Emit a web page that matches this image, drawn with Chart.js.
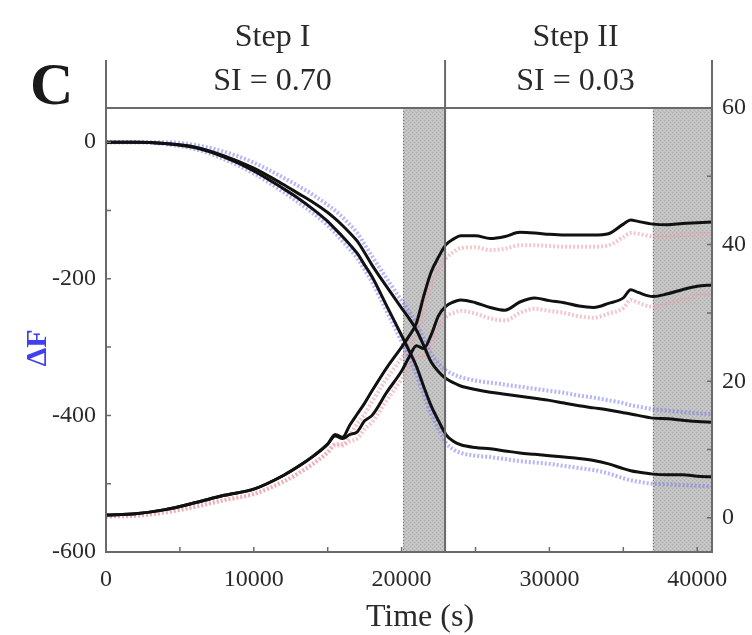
<!DOCTYPE html>
<html>
<head>
<meta charset="utf-8">
<script src="https://cdn.jsdelivr.net/npm/chart.js@4.4.1/dist/chart.umd.min.js"></script>
<style>
  html, body { margin: 0; padding: 0; background: #ffffff; }
  #wrap { width: 752px; height: 635px; position: relative; }
</style>
</head>
<body>
<div id="wrap"><canvas id="chart" width="752" height="635"></canvas></div>
<script>
// Sampling times (s)
const timeS = [0,2000,4000,6000,8000,10000,12000,13000,14000,15000,15500,16000,16500,17000,17500,18000,19000,20000,20500,21000,21500,22000,22500,23000,23500,24000,25000,26000,27000,28000,29000,30000,31000,32000,33000,34000,35000,35500,36000,37000,38000,39000,40000,41000];

// Frequency shift ΔF (left axis): two overtones, fitted (black) and measured (blue)
const dF1Fit  = [0,0,-2,-7,-20,-38,-62,-75,-88,-103,-112,-122,-133,-145,-162,-180,-212,-243,-258,-275,-298,-322,-336,-346,-352,-357,-362,-366,-369,-372,-375,-378,-382,-386,-389,-392,-396,-398,-400,-404,-405,-407,-409,-410];
const dF1Meas = [0,0,0,-4,-14,-30,-52,-64,-77,-92,-100,-110,-121,-133,-150,-167,-200,-232,-248,-266,-288,-310,-324,-334,-340,-344,-349,-352,-355,-358,-361,-364,-367,-371,-374,-378,-382,-385,-387,-391,-393,-395,-397,-398];
const dF2Fit  = [0,0,-2,-8,-22,-42,-68,-82,-98,-116,-127,-138,-150,-163,-180,-197,-240,-283,-305,-328,-358,-386,-408,-428,-438,-443,-447,-449,-452,-455,-457,-459,-461,-463,-466,-471,-478,-481,-483,-486,-487,-487,-489,-490];
const dF2Meas = [0,0,-3,-10,-25,-46,-73,-88,-104,-122,-133,-145,-157,-170,-187,-205,-248,-292,-315,-340,-370,-398,-420,-440,-450,-455,-459,-461,-464,-467,-469,-471,-474,-477,-480,-485,-492,-495,-497,-500,-501,-502,-503,-504];

// Dissipation (right axis): fitted (black) and measured (pink)
const dD1Fit  = [0.4,0.6,1.2,2.2,3.3,4.2,6.2,7.5,9.0,10.8,12.2,11.8,13.6,15.2,16.8,18.6,22.0,25.0,26.6,28.5,32.5,36.0,38.2,40.0,40.8,41.3,41.3,40.9,41.2,41.8,41.7,41.5,41.4,41.4,41.4,41.6,43.0,43.6,43.4,43.0,42.9,43.1,43.2,43.3];
const dD1Meas = [0.2,0.3,0.8,1.6,2.6,3.5,5.3,6.5,7.9,9.6,10.8,10.8,12.2,13.8,15.2,17.0,20.4,23.4,25.0,26.8,30.6,34.0,36.3,38.0,38.9,39.5,39.6,39.2,39.4,39.9,39.9,39.8,39.7,39.7,39.7,39.9,41.1,41.7,41.6,41.2,41.2,41.4,41.5,41.6];
const dD2Fit  = [0.4,0.6,1.2,2.2,3.3,4.2,6.2,7.5,9.0,10.8,12.0,11.6,12.2,12.6,14.2,15.0,18.4,21.5,23.5,25.2,24.8,26.8,29.6,31.0,31.6,31.9,31.5,30.8,30.4,31.6,32.2,31.8,31.5,31.0,30.8,31.4,32.2,33.4,33.0,32.4,32.8,33.4,33.9,34.1];
const dD2Meas = [0.2,0.3,0.8,1.6,2.6,3.5,5.3,6.5,7.9,9.6,10.6,10.6,11.2,11.6,13.0,14.0,17.2,20.3,22.0,23.6,23.6,25.4,28.0,29.4,30.0,30.3,29.9,29.2,28.9,30.0,30.6,30.3,30.0,29.5,29.3,29.9,30.7,31.9,31.5,30.9,31.4,32.0,32.6,32.9];

// Rinse periods (shaded) and step boundaries (s)
const rinseBands = [[20100, 22940], [37000, 41000]];
const stepEdges = [0, 22940, 41000];
const stepNames = ['Step I', 'Step II'];
const stepSI = ['SI = 0.70', 'SI = 0.03'];

// Axis ranges and labelled time ticks
const timeRange = [0, 41000];
const timeLabels = [0, 10000, 20000, 30000, 40000];
const dFRange = [-600, 50];
const dDRange = [-5, 60];

const SERIF = '"Liberation Serif", "DejaVu Serif", serif';
const pts = arr => arr.map((v, i) => ({ x: timeS[i], y: v }));

function line(data, axis, color, width, dash, order) {
  return {
    data: pts(data), yAxisID: axis, borderColor: color, borderWidth: width,
    borderDash: dash, pointRadius: 0, fill: false, order: order,
    cubicInterpolationMode: 'monotone'
  };
}

function hatchPattern(ctx) {
  const p = document.createElement('canvas');
  p.width = 4; p.height = 4;
  const g = p.getContext('2d');
  g.fillStyle = '#c2c2c2'; g.fillRect(0, 0, 4, 4);
  g.fillStyle = '#a8a8a8';
  g.fillRect(0, 0, 1, 1); g.fillRect(2, 2, 1, 1);
  g.fillStyle = '#cfcfcf';
  g.fillRect(2, 0, 1, 1); g.fillRect(0, 2, 1, 1);
  return ctx.createPattern(p, 'repeat');
}

const decorations = {
  id: 'decorations',
  beforeDatasetsDraw(chart) {
    const { ctx, chartArea: a, scales: { x } } = chart;
    ctx.save();
    ctx.fillStyle = hatchPattern(ctx);
    rinseBands.forEach(([s, e]) => {
      const x0 = x.getPixelForValue(s), x1 = x.getPixelForValue(e);
      ctx.fillRect(x0, a.top, x1 - x0, a.bottom - a.top);
      ctx.strokeStyle = '#707070'; ctx.lineWidth = 1; ctx.setLineDash([1, 2]);
      [x0, x1].forEach(px => {
        ctx.beginPath(); ctx.moveTo(px + 0.5, a.top); ctx.lineTo(px + 0.5, a.bottom); ctx.stroke();
      });
    });
    ctx.restore();
  },
  afterDatasetsDraw(chart) {
    const { ctx, chartArea: a, scales: { x, y, y1 } } = chart;
    ctx.save();
    ctx.strokeStyle = '#6a6a6a';
    ctx.lineWidth = 2;
    ctx.strokeRect(a.left, a.top, a.right - a.left, a.bottom - a.top);
    // step boundary lines, running above the frame
    stepEdges.forEach(t => {
      const px = x.getPixelForValue(t);
      ctx.beginPath(); ctx.moveTo(px, 60); ctx.lineTo(px, t > 0 && t < timeRange[1] ? a.bottom : a.top); ctx.stroke();
    });
    // inward ticks
    ctx.lineWidth = 1.5;
    ctx.beginPath();
    for (let v = dFRange[0]; v <= 0; v += 100) {
      const py = y.getPixelForValue(v); ctx.moveTo(a.left, py); ctx.lineTo(a.left + 5, py);
    }
    for (let v = 0; v <= dDRange[1]; v += 10) {
      const py = y1.getPixelForValue(v); ctx.moveTo(a.right, py); ctx.lineTo(a.right - 5, py);
    }
    for (let v = 5000; v <= 40000; v += 5000) {
      const px = x.getPixelForValue(v); ctx.moveTo(px, a.bottom); ctx.lineTo(px, a.bottom - 5);
    }
    ctx.stroke();
    ctx.restore();
  },
  afterDraw(chart) {
    const { ctx, chartArea: a, scales: { x } } = chart;
    ctx.save();
    // time tick labels
    ctx.fillStyle = '#2a2a2a';
    ctx.font = '24px ' + SERIF;
    ctx.textAlign = 'center'; ctx.textBaseline = 'alphabetic';
    timeLabels.forEach(v => ctx.fillText(String(v), x.getPixelForValue(v), a.bottom + 34));

    ctx.fillStyle = '#1a1a1a';
    ctx.font = 'bold 60px ' + SERIF;
    ctx.textAlign = 'left';
    ctx.fillText('C', 30, 104);

    ctx.fillStyle = '#2a2a2a';
    ctx.font = '32px ' + SERIF;
    ctx.textAlign = 'center';
    for (let i = 0; i < stepNames.length; i++) {
      const cx = (x.getPixelForValue(stepEdges[i]) + x.getPixelForValue(stepEdges[i + 1])) / 2;
      ctx.fillText(stepNames[i], cx - 3, 46);
      ctx.fillText(stepSI[i], cx - 3, 90);
    }

    ctx.font = '32px ' + SERIF;
    ctx.fillText('Time (s)', 420, 626);

    ctx.translate(38, 348);
    ctx.rotate(-Math.PI / 2);
    ctx.fillStyle = '#4040f0';
    ctx.font = 'bold 30px ' + SERIF;
    ctx.textBaseline = 'middle';
    ctx.fillText('\u0394F', 0, 0);
    ctx.restore();
  }
};

const tickFont = { family: SERIF, size: 24 };

new Chart(document.getElementById('chart'), {
  type: 'line',
  data: {
    datasets: [
      line(dF1Fit, 'y', '#111111', 3, [], 1),
      line(dF2Fit, 'y', '#111111', 3, [], 1),
      line(dD1Fit, 'y1', '#111111', 3, [], 1),
      line(dD2Fit, 'y1', '#111111', 3, [], 1),
      line(dF1Meas, 'y', 'rgba(120,120,245,0.55)', 4, [2, 2], 2),
      line(dF2Meas, 'y', 'rgba(120,120,245,0.55)', 4, [2, 2], 2),
      line(dD1Meas, 'y1', 'rgba(235,160,170,0.6)', 4, [2, 2], 2),
      line(dD2Meas, 'y1', 'rgba(235,160,170,0.6)', 4, [2, 2], 2)
    ]
  },
  options: {
    responsive: false,
    animation: false,
    devicePixelRatio: 1,
    layout: { padding: { top: 108, left: 0, right: 0, bottom: 0 } },
    plugins: { legend: { display: false }, tooltip: { enabled: false } },
    scales: {
      x: {
        type: 'linear', min: timeRange[0], max: timeRange[1],
        grid: { display: false, drawTicks: false },
        border: { display: false },
        ticks: { display: false, stepSize: 5000 },
        afterFit: s => { s.height = 83; }
      },
      y: {
        type: 'linear', position: 'left', min: dFRange[0], max: dFRange[1],
        grid: { display: false, drawTicks: false },
        border: { display: false },
        ticks: {
          stepSize: 100, padding: 10, color: '#2a2a2a', font: tickFont, autoSkip: false,
          callback: v => (v % 200 === 0 ? String(v) : '')
        },
        afterFit: s => { s.width = 106; }
      },
      y1: {
        type: 'linear', position: 'right', min: dDRange[0], max: dDRange[1],
        grid: { display: false, drawTicks: false },
        border: { display: false },
        ticks: {
          stepSize: 10, padding: 10, color: '#2a2a2a', font: tickFont, autoSkip: false,
          callback: v => (v >= 0 && v % 20 === 0 ? String(v) : '')
        },
        afterFit: s => { s.width = 40; }
      }
    }
  },
  plugins: [decorations]
});
</script>
</body>
</html>
